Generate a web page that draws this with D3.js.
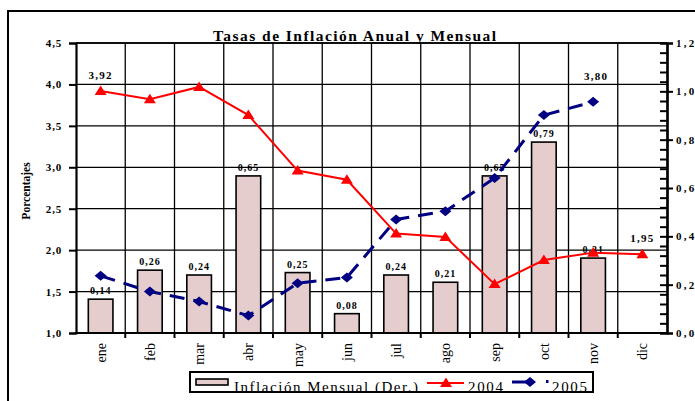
<!DOCTYPE html>
<html>
<head>
<meta charset="utf-8">
<script src="https://cdn.jsdelivr.net/npm/d3@7"></script>
<style>
  body { margin: 0; background: #fff; }
  svg { display: block; font-family: "Liberation Serif", "Times New Roman", serif; }
</style>
</head>
<body>
<div id="chart"></div>
<script>
// data
var months = ["ene", "feb", "mar", "abr", "may", "jun", "jul", "ago", "sep", "oct", "nov", "dic"];
var mensual = [0.14, 0.26, 0.24, 0.65, 0.25, 0.08, 0.24, 0.21, 0.65, 0.79, 0.31, null];
var anual2004 = [3.92, 3.82, 3.97, 3.63, 2.96, 2.85, 2.20, 2.16, 1.59, 1.88, 1.97, 1.95];
var anual2005 = [1.69, 1.50, 1.38, 1.21, 1.60, 1.67, 2.37, 2.47, 2.87, 3.63, 3.79, null];
var leftTicks = [1.0, 1.5, 2.0, 2.5, 3.0, 3.5, 4.0, 4.5];
var rightTicks = [0.0, 0.2, 0.4, 0.6, 0.8, 1.0, 1.2];

var W = 695, H = 401;
var pLeft = 76, pRight = 667, pTop = 43, pBottom = 333;

var svg = d3.select("#chart").append("svg")
    .attr("width", W)
    .attr("height", H);

var x = d3.scaleBand().domain(months).range([pLeft, pRight]);
var yL = d3.scaleLinear().domain([1, 4.5]).range([pBottom, pTop]);
var yR = d3.scaleLinear().domain([0, 1.2]).range([pBottom, pTop]);
var fmt = function(d) { return d.toFixed(1).replace(".", ","); };
var fmt2 = function(d) { return d.toFixed(2).replace(".", ","); };

// outer frame
svg.append("rect")
    .attr("x", 8).attr("y", 11)
    .attr("width", 720).attr("height", 420)
    .attr("fill", "none").attr("stroke", "#000").attr("stroke-width", 2);

// gridlines
var grid = svg.append("g").attr("stroke", "#000").attr("stroke-width", 1.3);
grid.selectAll("line.h")
    .data(leftTicks.slice(1))
  .enter().append("line")
    .attr("x1", pLeft).attr("x2", pRight)
    .attr("y1", function(d) { return yL(d); })
    .attr("y2", function(d) { return yL(d); });
grid.selectAll("line.v")
    .data(months.slice(1))
  .enter().append("line")
    .attr("x1", function(d) { return x(d); })
    .attr("x2", function(d) { return x(d); })
    .attr("y1", pTop).attr("y2", pBottom);

// bars (right axis)
var bars = months.map(function(m, i) { return {m: m, v: mensual[i]}; })
    .filter(function(d) { return d.v != null; });
svg.append("g").selectAll("rect")
    .data(bars)
  .enter().append("rect")
    .attr("x", function(d) { return x(d.m) + x.bandwidth() * 0.25; })
    .attr("width", x.bandwidth() * 0.5)
    .attr("y", function(d) { return yR(d.v); })
    .attr("height", function(d) { return yR(0) - yR(d.v); })
    .attr("fill", "#e6cdcd")
    .attr("stroke", "#000")
    .attr("stroke-width", 1.6);

svg.append("g").selectAll("text")
    .data(bars)
  .enter().append("text")
    .attr("x", function(d) { return x(d.m) + x.bandwidth() / 2; })
    .attr("y", function(d) { return yR(d.v) - 5; })
    .attr("text-anchor", "middle")
    .attr("font-size", 10).attr("font-weight", "bold")
    .attr("letter-spacing", 1)
    .text(function(d) { return fmt2(d.v); });

// lines
var cx = function(d) { return x(d.m) + x.bandwidth() / 2; };
var s2004 = months.map(function(m, i) { return {m: m, v: anual2004[i]}; });
var s2005 = months.map(function(m, i) { return {m: m, v: anual2005[i]}; })
    .filter(function(d) { return d.v != null; });
var line = d3.line()
    .x(cx)
    .y(function(d) { return yL(d.v); });

svg.append("path")
    .datum(s2004)
    .attr("d", line)
    .attr("fill", "none").attr("stroke", "#ff0000").attr("stroke-width", 2);

svg.append("path")
    .datum(s2005)
    .attr("d", line)
    .attr("fill", "none").attr("stroke", "#000080").attr("stroke-width", 3)
    .attr("stroke-dasharray", "15,9");

var tri = "M0,-5.5L6,4L-6,4Z";
var dia = "M-6,0L0,-5L6,0L0,5Z";

svg.append("g").selectAll("path")
    .data(s2004)
  .enter().append("path")
    .attr("d", tri)
    .attr("transform", function(d) { return "translate(" + cx(d) + "," + yL(d.v) + ")"; })
    .attr("fill", "#ff0000");

svg.append("g").selectAll("path")
    .data(s2005)
  .enter().append("path")
    .attr("d", dia)
    .attr("transform", function(d) { return "translate(" + cx(d) + "," + yL(d.v) + ")"; })
    .attr("fill", "#000080");

// line value labels
var lab = svg.append("g")
    .attr("font-size", 11).attr("font-weight", "bold")
    .attr("letter-spacing", 1.3).attr("text-anchor", "middle");
[s2004[0], s2004[11]].forEach(function(d) {
    lab.append("text")
        .attr("x", cx(d)).attr("y", yL(d.v) - 12)
        .text(fmt2(d.v));
});
lab.append("text")
    .attr("x", cx(s2005[10]) + 3).attr("y", yL(3.80) - 21)
    .text(fmt2(3.80));

// axes
var axL = svg.append("g")
    .attr("transform", "translate(" + pLeft + ",0)")
    .call(d3.axisLeft(yL).tickValues(leftTicks).tickFormat(fmt).tickSize(7).tickPadding(7));
axL.selectAll("text").attr("font-size", 11).attr("font-weight", "bold")
    .attr("font-family", "Liberation Serif").attr("letter-spacing", 0.8);

var minor = d3.range(0, 31).map(function(i) { return i * 0.04; });
var axRm = svg.append("g")
    .attr("transform", "translate(" + pRight + ",0)")
    .call(d3.axisRight(yR).tickValues(minor).tickFormat("").tickSize(-7));
var axR = svg.append("g")
    .attr("transform", "translate(" + pRight + ",0)")
    .call(d3.axisRight(yR).tickValues(rightTicks).tickFormat(fmt).tickSize(6).tickPadding(3));
axR.selectAll("text").attr("font-size", 11).attr("font-weight", "bold")
    .attr("font-family", "Liberation Serif").attr("letter-spacing", 2.2);

[axL, axRm, axR].forEach(function(a) {
    a.select(".domain").attr("stroke-width", 2.2);
    a.selectAll(".tick line").attr("stroke-width", 2);
});

// top and bottom borders of plot
svg.append("line")
    .attr("x1", pLeft).attr("x2", pRight).attr("y1", pTop).attr("y2", pTop)
    .attr("stroke", "#000").attr("stroke-width", 1.5);
svg.append("line")
    .attr("x1", pLeft - 1).attr("x2", pRight + 1).attr("y1", pBottom).attr("y2", pBottom)
    .attr("stroke", "#000").attr("stroke-width", 2.2);

// x ticks at band edges
svg.append("g").selectAll("line")
    .data(months.slice(1))
  .enter().append("line")
    .attr("x1", function(d) { return x(d); })
    .attr("x2", function(d) { return x(d); })
    .attr("y1", pBottom).attr("y2", pBottom + 5)
    .attr("stroke", "#000").attr("stroke-width", 2);

// x labels
svg.append("g").selectAll("text")
    .data(months)
  .enter().append("text")
    .attr("transform", function(d) { return "translate(" + (x(d) + x.bandwidth() / 2) + "," + (pBottom + 10) + ") rotate(-90)"; })
    .attr("text-anchor", "end")
    .attr("dy", "0.35em")
    .attr("font-size", 14)
    .text(function(d) { return d; });

// title
svg.append("text")
    .attr("x", 213).attr("y", 41)
    .attr("textLength", 283).attr("lengthAdjust", "spacing")
    .attr("font-size", 15.5).attr("font-weight", "bold")
    .text("Tasas de Inflación Anual y Mensual");

// y title
svg.append("text")
    .attr("transform", "translate(26,191) rotate(-90)")
    .attr("text-anchor", "middle").attr("dy", "0.35em")
    .attr("font-size", 11.5).attr("font-weight", "bold")
    .text("Porcentajes");

// legend
var leg = svg.append("g");
leg.append("clipPath").attr("id", "legclip")
  .append("rect").attr("x", 190).attr("y", 372).attr("width", 403).attr("height", 20);
leg.append("rect")
    .attr("x", 190).attr("y", 372).attr("width", 403).attr("height", 20)
    .attr("fill", "#fff");
var lt = leg.append("g").attr("clip-path", "url(#legclip)").attr("font-size", 15);
lt.append("text").attr("x", 234).attr("y", 392)
    .attr("textLength", 184).attr("lengthAdjust", "spacing")
    .text("Inflación Mensual (Der.)");
lt.append("text").attr("x", 468).attr("y", 392)
    .attr("textLength", 35).attr("lengthAdjust", "spacing")
    .text("2004");
lt.append("text").attr("x", 552).attr("y", 392)
    .attr("textLength", 35).attr("lengthAdjust", "spacing")
    .text("2005");
leg.append("rect")
    .attr("x", 190).attr("y", 372).attr("width", 403).attr("height", 20)
    .attr("fill", "none").attr("stroke", "#000").attr("stroke-width", 2);
leg.append("rect")
    .attr("x", 196).attr("y", 379).attr("width", 32).attr("height", 6)
    .attr("fill", "#e6cdcd").attr("stroke", "#000").attr("stroke-width", 1.6);
leg.append("line")
    .attr("x1", 427).attr("x2", 464).attr("y1", 383).attr("y2", 383)
    .attr("stroke", "#ff0000").attr("stroke-width", 2);
leg.append("path").attr("d", tri)
    .attr("transform", "translate(446,383)").attr("fill", "#ff0000");
leg.append("line")
    .attr("x1", 512).attr("x2", 532).attr("y1", 382).attr("y2", 382)
    .attr("stroke", "#000080").attr("stroke-width", 3);
leg.append("path").attr("d", dia)
    .attr("transform", "translate(530,382)").attr("fill", "#000080");
leg.append("rect")
    .attr("x", 546).attr("y", 380).attr("width", 2.5).attr("height", 3)
    .attr("fill", "#000080");
</script>
</body>
</html>
